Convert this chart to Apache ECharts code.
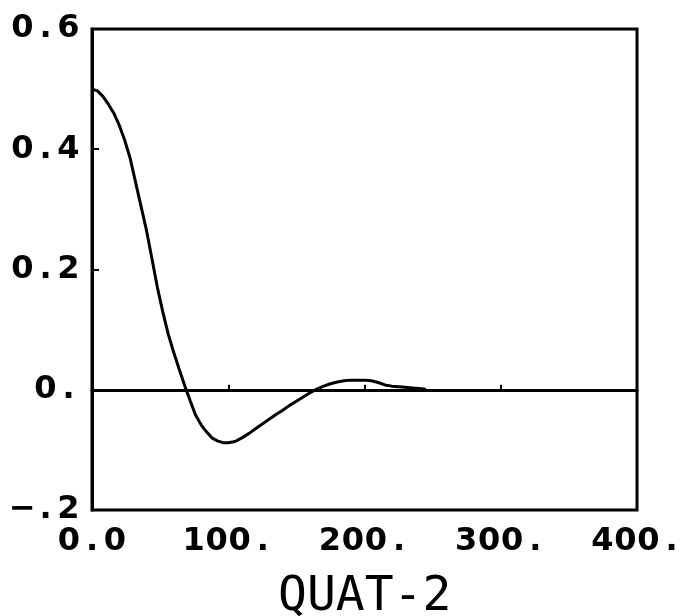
<!DOCTYPE html>
<html>
<head>
<meta charset="utf-8">
<script src="https://cdn.jsdelivr.net/npm/echarts@6/dist/echarts.min.js"></script>
<style>html,body{margin:0;padding:0;background:#fff}#c{width:686px;height:616px}</style>
</head>
<body>
<div id="c"></div>
<script>
var xVals = [0,4,8,12,16,20,24,28,32,36,40,44,48,52,56,60,64,68,72,76,80,84,88,92,96,100,105,110,115,120,125,130,135,140,145,150,155,160,165,170,175,180,185,190,195,200,205,210,215,220,225,230,235,240,245];
var yVals = [0.500,0.497,0.488,0.475,0.460,0.440,0.415,0.385,0.345,0.305,0.265,0.218,0.170,0.129,0.092,0.062,0.034,0.007,-0.018,-0.042,-0.058,-0.070,-0.080,-0.085,-0.088,-0.088,-0.086,-0.080,-0.073,-0.065,-0.057,-0.049,-0.041,-0.034,-0.026,-0.019,-0.012,-0.005,0.001,0.006,0.010,0.013,0.015,0.016,0.016,0.016,0.015,0.012,0.008,0.006,0.005,0.004,0.003,0.002,0.001];
var yTickLabels = {"0.6":"0.6","0.4":"0.4","0.2":"0.2","0":"0.","-0.2":"\u2212.2"};
var xTickLabels = {"0":"0.0","100":"100.","200":"200.","300":"300.","400":"400."};
var xTitle = "QUAT-2";

var pts = xVals.map(function(x,i){return [x,yVals[i]];});
function spaced(s){
  if(!s) return '';
  return s.split('').map(function(ch){return '{c|'+ch+'}';}).join('');
}
var charStyle = {width:23, align:'center', fontFamily:'DejaVu Sans', fontWeight:'bold', fontSize:32, lineHeight:32, color:'#000'};
var chart = echarts.init(document.getElementById('c'));
chart.setOption({
  animation:false,
  backgroundColor:'#fff',
  title:{text:xTitle, left:273, top:569,
    textStyle:{fontFamily:'DejaVu Sans Mono', fontWeight:'normal', fontSize:48, lineHeight:48, color:'#000'}},
  grid:{left:92, top:29, width:550, height:481, show:true, borderColor:'#000', borderWidth:3, backgroundColor:'transparent'},
  xAxis:{type:'value', min:0, max:400, interval:100,
    axisLine:{show:true, lineStyle:{color:'#000', width:3}},
    axisTick:{show:true, inside:true, length:5, lineStyle:{color:'#000', width:2}},
    splitLine:{show:false},
    axisLabel:{margin:16, formatter:function(v){return spaced(xTickLabels[String(v)]);}, rich:{c:charStyle}}
  },
  yAxis:{type:'value', min:-0.2, max:0.6, interval:0.2,
    axisLine:{show:true, lineStyle:{color:'#000', width:3}},
    axisTick:{show:true, inside:true, length:7, lineStyle:{color:'#000', width:2}},
    splitLine:{show:false},
    axisLabel:{margin:12, formatter:function(v){var k=String(Math.round(v*10)/10);return spaced(yTickLabels[k]);}, rich:{c:charStyle}}
  },
  series:[{
    type:'line', data:pts, showSymbol:false, smooth:false,
    lineStyle:{color:'#000', width:3},
    markLine:{silent:true, symbol:['none','none'], label:{show:false},
      lineStyle:{color:'#000', width:2.5, type:'solid'},
      data:[{yAxis:0}]}
  }]
});
</script>
</body>
</html>
